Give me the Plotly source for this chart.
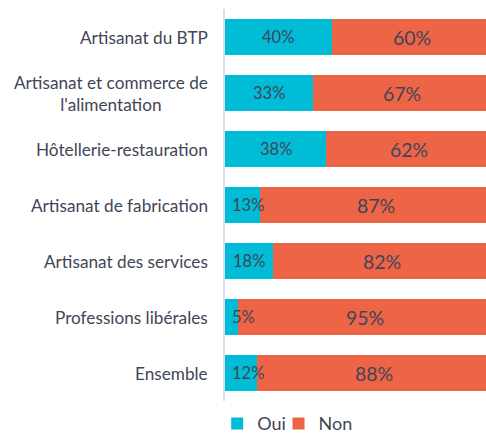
import plotly.graph_objects as go

categories = [
    "Artisanat du BTP",
    "Artisanat et commerce de<br>l'alimentation",
    "Hôtellerie-restauration",
    "Artisanat de fabrication",
    "Artisanat des services",
    "Professions libérales",
    "Ensemble",
]
oui = [40, 33, 38, 13, 18, 5, 12]
non = [60, 67, 62, 87, 82, 95, 88]

OUI_COLOR = "#00BCD6"
NON_COLOR = "#EE6446"
TEXT_COLOR = "#3F4656"
FONT = "Lato"

fig = go.Figure()
fig.add_trace(go.Bar(
    y=categories, x=oui, name="Oui", orientation="h", legend="legend",
    marker=dict(color=OUI_COLOR, line=dict(width=0)),
))
fig.add_trace(go.Bar(
    y=categories, x=non, name="Non", orientation="h", legend="legend2",
    marker=dict(color=NON_COLOR, line=dict(width=0)),
))

annotations = []
# value labels inside the segments
for cat, o, n in zip(categories, oui, non):
    if o >= 15:
        annotations.append(dict(x=o / 2, y=cat, xref="x", yref="y",
                                text=f"{o}%", showarrow=False, xanchor="center",
                                font=dict(family=FONT, size=16.5, color=TEXT_COLOR)))
    else:
        annotations.append(dict(x=0, y=cat, xref="x", yref="y",
                                text=f"{o}%", showarrow=False, xanchor="left", xshift=5,
                                font=dict(family=FONT, size=16.5, color=TEXT_COLOR)))
    annotations.append(dict(x=o + n / 2, y=cat, xref="x", yref="y",
                            text=f"{n}%", showarrow=False, xanchor="center",
                            font=dict(family=FONT, size=19.5, color=TEXT_COLOR)))
# category labels, centred line by line
for cat in categories:
    annotations.append(dict(x=0, y=cat, xref="paper", yref="y", text=cat,
                            showarrow=False, xanchor="right", xshift=-15,
                            align="center",
                            font=dict(family=FONT, size=17.2, color=TEXT_COLOR)))

legend_style = dict(orientation="h", y=-0.058, yanchor="middle",
                    font=dict(family=FONT, size=18, color=TEXT_COLOR),
                    itemwidth=30, bgcolor="rgba(0,0,0,0)")

fig.update_layout(
    barmode="stack",
    bargap=0.34,
    width=486, height=433,
    margin=dict(l=225, r=0, t=9, b=32, autoexpand=False),
    paper_bgcolor="white", plot_bgcolor="white",
    xaxis=dict(range=[0, 97.8], visible=False, fixedrange=True),
    yaxis=dict(autorange="reversed", showticklabels=False, ticks="",
               showline=True, linecolor="#D6DCF4", linewidth=2,
               showgrid=False, zeroline=False),
    legend=dict(x=-0.03, xanchor="left", **legend_style),
    legend2=dict(x=0.205, xanchor="left", **legend_style),
    annotations=annotations,
    showlegend=True,
)

fig.write_html("out.html")
